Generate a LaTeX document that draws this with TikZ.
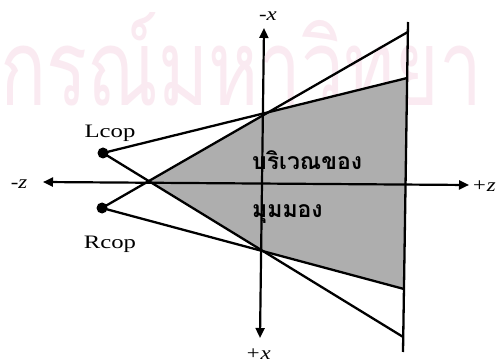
\documentclass[tikz,border=0pt]{standalone}
\usepackage{fontspec}
\setmainfont{Liberation Serif}
\newfontfamily\thaifont[Script=Thai]{Loma}
\usetikzlibrary{arrows.meta}
\definecolor{wmpink}{RGB}{250,234,241}
\definecolor{fov}{RGB}{174,174,174}
\begin{document}
\begin{tikzpicture}[x=1pt,y=-1pt,
  ln/.style={line width=2.3pt},
  ax/.style={line width=2.2pt,{Triangle[length=10pt,width=9pt]}-{Triangle[length=10pt,width=9pt]}},
  eye/.style={circle,fill=black,inner sep=0pt,minimum size=11pt},
  lbl/.style={font=\fontsize{19}{22}\selectfont,inner sep=0pt,xscale=1.3},
  ilbl/.style={font=\fontsize{19}{22}\selectfont\itshape,inner sep=0pt,xscale=1.2},
  thai/.style={font=\thaifont\bfseries\fontsize{23}{26}\selectfont,inner sep=0pt,anchor=base west},
  wm/.style={font=\thaifont\fontsize{106}{106}\selectfont,text=wmpink,inner sep=0pt,anchor=base west,xscale=0.72,text depth=0pt}]
\useasboundingbox (0,0) rectangle (497,363);
\fill[white] (0,0) rectangle (497,363);
% watermark
\node[wm] (wmark) at (0,106) {กรณ์มหาวิทยา};
% key points
\coordinate (L) at (103,153);
\coordinate (R) at (102,208);
\coordinate (sTop) at (408,22);
\coordinate (sBot) at (403,352);
\coordinate (OT) at (407.8,32);
\coordinate (GT) at (407.2,78);
\coordinate (GB) at (404,289);
\coordinate (OB) at (403.2,337);
\coordinate (C) at (intersection of L--OB and R--OT);
\coordinate (P) at (intersection of L--GT and R--OT);
\coordinate (Q) at (intersection of L--OB and R--GB);
% field of view
\fill[fov] (C) -- (P) -- (GT) -- (GB) -- (Q) -- cycle;
% rays
\draw[ln] (R) -- (OT);
\draw[ln] (L) -- (OB);
\draw[ln] (L) -- (GT);
\draw[ln] (R) -- (GB);
% screen
\draw[ln] (sTop) -- (sBot);
% axes
\coordinate (zL) at (43,182);
\coordinate (zR) at (469,185);
\coordinate (xT) at (264,28);
\coordinate (xB) at (260,338);
\draw[ax] (zL) -- (zR);
\draw[ax] (xT) -- (xB);
% eyes
\node[eye] (Ldot) at (L) {};
\node[eye] (Rdot) at (R) {};
% labels
\node[lbl] (Llab) at (110,133) {Lcop};
\node[lbl] (Rlab) at (110,244) {Rcop};
\node[ilbl] (mx) at (268,16) {-x};
\node[ilbl] (px) at (258,354) {+x};
\node[ilbl] (mz) at (19,184) {-z};
\node[ilbl,anchor=east] (pz) at (496,186) {+z};
\node[thai] (t1) at (252,170) {บริเวณของ};
\node[thai] (t2) at (252,217) {มุมมอง};
\end{tikzpicture}
\end{document}
